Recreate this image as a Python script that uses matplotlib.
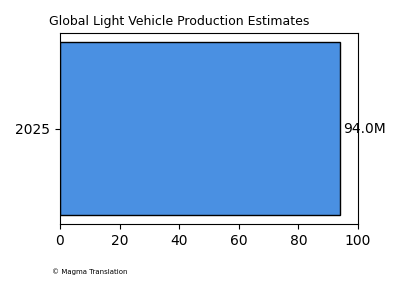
import matplotlib
matplotlib.use("Agg")
import matplotlib.pyplot as plt

categories = ["2025"]
values = [94.0]
labels = ["94.0M"]

fig = plt.figure(figsize=(4, 3), dpi=100)
ax = fig.add_axes([0.15, 0.2533, 0.745, 0.6367])
bars = ax.barh(categories, values, height=0.8, color="#4A90E2", edgecolor="black", linewidth=1)
ax.set_xlim(0, 100)
for b, lab in zip(bars, labels):
    ax.text(b.get_width() + 1, b.get_y() + b.get_height() / 2, lab, va="center", ha="left", fontsize=10)
fig.text(49 / 400, 1 - 21 / 300, "Global Light Vehicle Production Estimates", fontsize=9, va="center", ha="left")
fig.text(52 / 400, 1 - 272 / 300, "© Magma Translation", fontsize=5, va="center", ha="left")
fig.savefig("out.png", dpi=100)
